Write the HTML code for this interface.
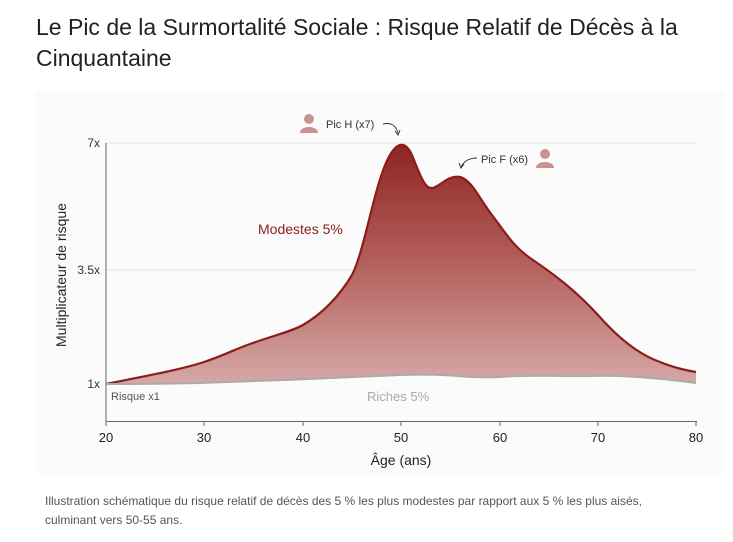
<!DOCTYPE html>
<html><head><meta charset="utf-8"><style>
body{margin:0;background:#fff;width:733px;height:542px;overflow:hidden;font-family:"Liberation Sans",sans-serif}
h1{position:absolute;left:36px;top:12px;margin:0;font-weight:normal;font-size:23px;line-height:31px;color:#222;width:690px}
.card{position:absolute;left:35px;top:90px;width:690px;height:385px;background:#fbfbfb;border-radius:6px}
.cap{position:absolute;left:45px;top:492px;font-size:12px;line-height:19px;color:#555;width:650px}
</style></head><body>
<h1>Le Pic de la Surmortalité Sociale : Risque Relatif de Décès à la Cinquantaine</h1>
<div class="card"></div>
<svg style="position:absolute;left:0;top:0" width="733" height="542" font-family="Liberation Sans, sans-serif">
<defs><linearGradient id="g" x1="0" y1="143" x2="0" y2="384" gradientUnits="userSpaceOnUse">
<stop offset="0" stop-color="#8e2420"/><stop offset="0.5" stop-color="#b4605c"/><stop offset="1" stop-color="#d6a8a6"/></linearGradient></defs>
<line x1="106" y1="143" x2="697" y2="143" stroke="#e2e2e2"/>
<line x1="106" y1="270" x2="697" y2="270" stroke="#e2e2e2"/>
<path d="M106,384 C140,377 180,370 204,362 C225,355 240,347 253,343 C275,335 290,332 303,325 C325,312 340,295 352,275 C365,250 375,180 390,155 C397,143 405,140 412,155 C420,175 425,190 433,188 C442,185 448,175 460,177 C472,180 480,200 492,215 C505,232 512,245 530,258 C555,275 575,290 598,315 C620,340 640,355 660,362 C675,368 685,370 696,372 L696,383 C660,378 620,375 590,376 C560,377 540,374 500,377 C470,379 450,373 400,375 C340,378 260,381 200,383 C150,384 120,384 106,384Z" fill="url(#g)"/>
<path d="M106,384 C140,377 180,370 204,362 C225,355 240,347 253,343 C275,335 290,332 303,325 C325,312 340,295 352,275 C365,250 375,180 390,155 C397,143 405,140 412,155 C420,175 425,190 433,188 C442,185 448,175 460,177 C472,180 480,200 492,215 C505,232 512,245 530,258 C555,275 575,290 598,315 C620,340 640,355 660,362 C675,368 685,370 696,372" fill="none" stroke="#8b1d1a" stroke-width="2.2"/>
<path d="M106,384 C120,384 150,384 200,383 C260,381 340,378 400,375 C450,373 470,379 500,377 C540,374 560,377 590,376 C620,375 660,378 696,383" fill="none" stroke="#aaa" stroke-width="2"/>
<line x1="106" y1="143" x2="106" y2="422" stroke="#666"/>
<line x1="106" y1="421.5" x2="697" y2="421.5" stroke="#666"/>
<g stroke="#666"><line x1="106" y1="421" x2="106" y2="426"/><line x1="204" y1="421" x2="204" y2="426"/><line x1="303" y1="421" x2="303" y2="426"/><line x1="401" y1="421" x2="401" y2="426"/><line x1="500" y1="421" x2="500" y2="426"/><line x1="598" y1="421" x2="598" y2="426"/><line x1="696" y1="421" x2="696" y2="426"/></g>
<g font-size="12" fill="#333" text-anchor="end"><text x="100" y="147">7x</text><text x="100" y="274">3.5x</text><text x="100" y="388">1x</text></g>
<g font-size="13" fill="#222" text-anchor="middle"><text x="106" y="442">20</text><text x="204" y="442">30</text><text x="303" y="442">40</text><text x="401" y="442">50</text><text x="500" y="442">60</text><text x="598" y="442">70</text><text x="696" y="442">80</text></g>
<text x="401" y="465" font-size="14" fill="#222" text-anchor="middle">Âge (ans)</text>
<text transform="translate(66,275) rotate(-90)" font-size="14" fill="#222" text-anchor="middle">Multiplicateur de risque</text>
<text x="111" y="400" font-size="11" fill="#555">Risque x1</text>
<text x="367" y="401" font-size="13" fill="#aaa">Riches 5%</text>
<text x="258" y="234" font-size="14" fill="#8b1d1a">Modestes 5%</text>
<text x="326" y="128" font-size="11" fill="#333">Pic H (x7)</text>
<text x="481" y="163" font-size="11" fill="#333">Pic F (x6)</text>
<path d="M383,124 C392,122 396,126 398,133" fill="none" stroke="#333"/><path d="M395,131 L398,135 L400,130" fill="none" stroke="#333"/>
<path d="M477,158 C470,158 464,161 461,167" fill="none" stroke="#333"/><path d="M459,163 L461,168 L464,164" fill="none" stroke="#333"/>
<g fill="#c99290"><circle cx="309" cy="119" r="5"/><path d="M300,133 C300,125 318,125 318,133Z"/><circle cx="545" cy="154" r="5"/><path d="M536,168 C536,160 554,160 554,168Z"/></g>
</svg>
<div class="cap">Illustration schématique du risque relatif de décès des 5 % les plus modestes par rapport aux 5 % les plus aisés, culminant vers 50-55 ans.</div>
</body></html>
